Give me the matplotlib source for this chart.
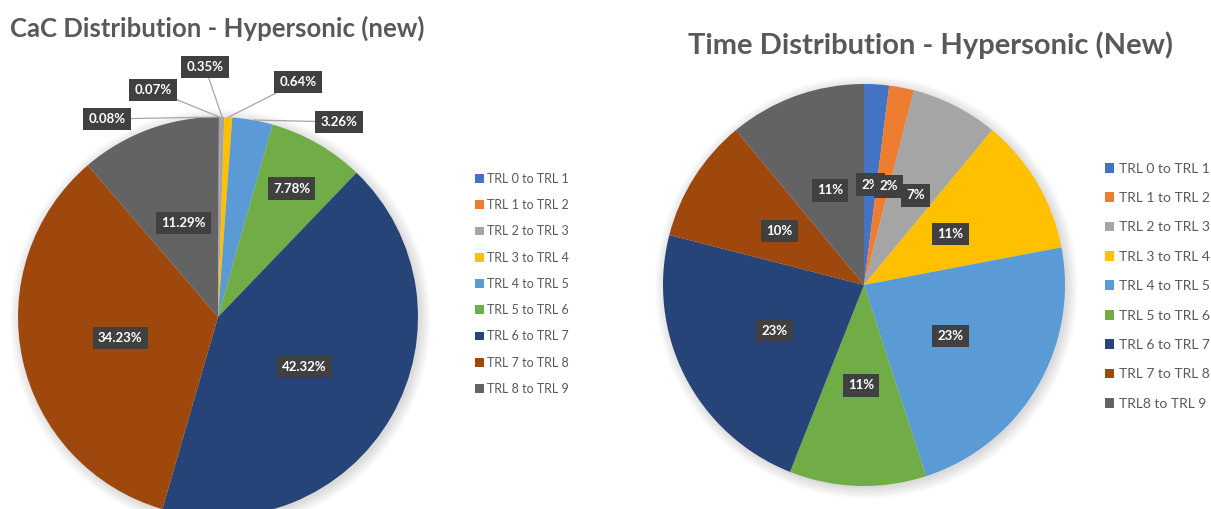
import matplotlib
matplotlib.use("Agg")
import matplotlib.pyplot as plt
from matplotlib.patches import Circle
import numpy as np

plt.rcParams['font.family'] = ['Lato', 'DejaVu Sans']

categories_cac = ["TRL 0 to TRL 1", "TRL 1 to TRL 2", "TRL 2 to TRL 3", "TRL 3 to TRL 4",
                  "TRL 4 to TRL 5", "TRL 5 to TRL 6", "TRL 6 to TRL 7", "TRL 7 to TRL 8",
                  "TRL 8 to TRL 9"]
categories_time = ["TRL 0 to TRL 1", "TRL 1 to TRL 2", "TRL 2 to TRL 3", "TRL 3 to TRL 4",
                   "TRL 4 to TRL 5", "TRL 5 to TRL 6", "TRL 6 to TRL 7", "TRL 7 to TRL 8",
                   "TRL8 to TRL 9"]
cac_values = [0.08, 0.07, 0.35, 0.64, 3.26, 7.78, 42.32, 34.23, 11.29]
time_values = [2, 2, 7, 11, 23, 11, 23, 10, 11]

colors = ['#4472C4', '#ED7D31', '#A5A5A5', '#FFC000', '#5B9BD5',
          '#70AD47', '#264478', '#9E480E', '#636363']

W, H = 1211, 509
fig = plt.figure(figsize=(W / 100, H / 100), dpi=100)


def px_axes(cx, cy, r):
    # axes box in pixel units (y measured from top)
    return fig.add_axes([(cx - r) / W, (H - cy - r) / H, 2 * r / W, 2 * r / H])


box = dict(boxstyle='square,pad=0.4', fc='#404040', ec='none')
txt_kw = dict(color='white', fontsize=9.5, fontweight='bold', ha='center', va='center')


def mid(w):
    return np.deg2rad((w.theta1 + w.theta2) / 2)


def shadow(ax):
    # soft glow like the Excel pie shadow
    for k in range(6):
        ax.add_patch(Circle((0.012, -0.012), 1 + 0.01 * k, color='k', alpha=0.025,
                            zorder=0, clip_on=False, lw=0))


# ---------------- left pie ----------------
ax1 = px_axes(218, 317, 200)
w1, _ = ax1.pie(cac_values, colors=colors, startangle=90, counterclock=False,
                radius=1, wedgeprops=dict(linewidth=0))
shadow(ax1)
ax1.set_xlim(-1, 1)
ax1.set_ylim(-1, 1)

# inside labels: index -> radial position
inside = {5: 0.74, 6: 0.5, 7: 0.5, 8: 0.5}
for i, rr in inside.items():
    a = mid(w1[i])
    ax1.text(rr * np.cos(a), rr * np.sin(a), f"{cac_values[i]:.2f}%", bbox=box, **txt_kw)

# callout labels for the thin slices
callouts = {0: (-0.555, 0.99), 1: (-0.325, 1.135), 2: (-0.065, 1.25),
            3: (0.40, 1.175), 4: (0.605, 0.975)}
for i, (tx, ty) in callouts.items():
    a = mid(w1[i])
    ax1.annotate(f"{cac_values[i]:.2f}%", xy=(np.cos(a), np.sin(a)), xytext=(tx, ty),
                 bbox=box, arrowprops=dict(arrowstyle='-', color='#A6A6A6', lw=0.9,
                                           shrinkA=0, shrinkB=0),
                 annotation_clip=False, **txt_kw)

fig.text(10 / W, 1 - 28 / H, "CaC Distribution - Hypersonic (new)", fontsize=18.5,
         fontweight='bold', color='#595959', ha='left', va='center')

leg1 = fig.legend(w1, categories_cac, loc='upper left', bbox_to_anchor=(466 / W, 1 - 164 / H),
                  frameon=False, fontsize=9, handlelength=0.7, handleheight=0.7,
                  handletextpad=0.3, labelspacing=1.14, borderpad=0.2)
for t in leg1.get_texts():
    t.set_color('#595959')

# ---------------- right pie ----------------
ax2 = px_axes(864, 285, 201)
w2, _ = ax2.pie(time_values, colors=colors, startangle=90, counterclock=False,
                radius=1, wedgeprops=dict(linewidth=0))
shadow(ax2)
ax2.set_xlim(-1, 1)
ax2.set_ylim(-1, 1)

nudge = {1: 0.03, 2: 0.03}
for i, w in enumerate(w2):
    a = mid(w)
    x, y = 0.5 * np.cos(a) + nudge.get(i, 0), 0.5 * np.sin(a)
    ax2.text(x, y, f"{time_values[i]}%", bbox=box, zorder=5 + i, **txt_kw)

fig.text(930 / W, 1 - 45 / H, "Time Distribution - Hypersonic (New)", fontsize=21,
         fontweight='bold', color='#595959', ha='center', va='center')

leg2 = fig.legend(w2, categories_time, loc='upper left', bbox_to_anchor=(1095 / W, 1 - 153 / H),
                  frameon=False, fontsize=10, handlelength=0.7, handleheight=0.7,
                  handletextpad=0.3, labelspacing=1.25, borderpad=0.2)
for t in leg2.get_texts():
    t.set_color('#595959')

fig.savefig("out.png", dpi=100)
